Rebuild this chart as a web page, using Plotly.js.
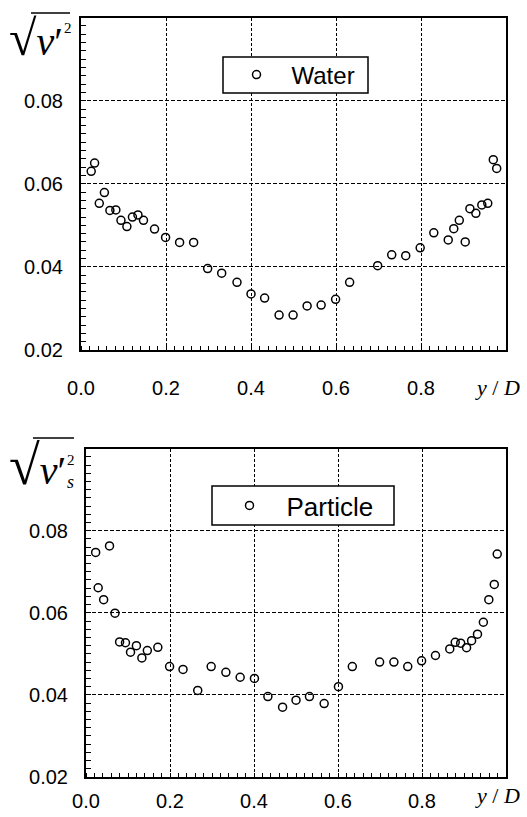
<!DOCTYPE html>
<html><head><meta charset="utf-8">
<script src="https://cdn.plot.ly/plotly-3.0.1.min.js"></script>
<style>html,body{margin:0;padding:0;background:#fff}</style>
</head><body><div id="chart" style="width:527px;height:817px"></div>
<script>
// ---- data ----
const waterX = [0.024,0.032,0.043,0.055,0.068,0.082,0.094,0.108,0.121,0.134,0.147,0.173,0.199,0.232,0.265,0.298,0.331,0.367,0.400,0.432,0.466,0.499,0.532,0.565,0.599,0.632,0.698,0.731,0.764,0.798,0.830,0.864,0.877,0.890,0.904,0.915,0.929,0.943,0.957,0.970,0.978];
const waterY = [0.0630,0.0650,0.0553,0.0579,0.0536,0.0537,0.0512,0.0497,0.0520,0.0525,0.0512,0.0491,0.0471,0.0459,0.0459,0.0396,0.0385,0.0363,0.0335,0.0325,0.0284,0.0284,0.0306,0.0308,0.0322,0.0363,0.0403,0.0429,0.0427,0.0446,0.0482,0.0465,0.0492,0.0512,0.0460,0.0540,0.0529,0.0549,0.0553,0.0658,0.0637];
const particleX = [0.023,0.029,0.042,0.056,0.069,0.080,0.094,0.106,0.120,0.133,0.146,0.171,0.199,0.231,0.266,0.298,0.333,0.367,0.401,0.433,0.468,0.500,0.532,0.567,0.601,0.634,0.699,0.733,0.766,0.799,0.832,0.866,0.879,0.892,0.906,0.918,0.932,0.946,0.959,0.972,0.979];
const particleY = [0.0747,0.0661,0.0632,0.0763,0.0599,0.0529,0.0527,0.0504,0.0520,0.0490,0.0508,0.0516,0.0469,0.0462,0.0411,0.0469,0.0455,0.0443,0.0440,0.0396,0.0370,0.0387,0.0396,0.0379,0.0420,0.0469,0.0480,0.0480,0.0469,0.0483,0.0496,0.0512,0.0528,0.0526,0.0515,0.0532,0.0548,0.0577,0.0632,0.0669,0.0743];
const xRange = [0, 0.9999];        // labels 0.0 … 0.8 (1.0 is replaced by y/D)
const yRange = [0.02, 0.0999];     // labels 0.02 … 0.08
const xTick = {major: 0.2, minor: 0.02, format: '.1f'};
const yTick = {major: 0.02, minor: 0.002, format: '.2f'};
const seriesNames = ['Water', 'Particle'];

// ---- layout helpers ----
const W = 527, H = 817, L = 81, R = 21, T = 18, B = 40;
const PW = W - L - R, PH = H - T - B;
const px = v => (v - L) / PW;
const py = v => (H - B - v) / PH;
const sans = 'Liberation Sans, Arial, sans-serif';
const serif = 'Liberation Serif, Times New Roman, serif';

// major ticks are transparent "outside" spacers (they push the labels out);
// the visible comb comes from the minor ticks drawn inside the frame.
function xAxis(domain, anchor, gap) {
  return {
    domain: domain, anchor: anchor, range: xRange,
    dtick: xTick.major, tickformat: xTick.format,
    ticks: 'outside', ticklen: gap, tickwidth: 1, tickcolor: 'rgba(0,0,0,0)',
    minor: {ticks: 'inside', ticklen: 4, tickwidth: 1, tickcolor: '#000', dtick: xTick.minor},
    showgrid: true, gridcolor: '#000', gridwidth: 1, griddash: '3px,2px',
    showline: true, linecolor: '#000', linewidth: 1.5, mirror: true, zeroline: false,
    tickfont: {family: sans, size: 20, color: '#000'}
  };
}
function yAxis(domain, anchor) {
  return {
    domain: domain, anchor: anchor, range: yRange,
    dtick: yTick.major, tickformat: yTick.format,
    ticks: 'outside', ticklen: 12, tickwidth: 1, tickcolor: 'rgba(0,0,0,0)',
    minor: {ticks: 'inside', ticklen: 5, tickwidth: 1, tickcolor: '#000', dtick: yTick.minor},
    showgrid: true, gridcolor: '#000', gridwidth: 1, griddash: '4px,2px',
    showline: true, linecolor: '#000', linewidth: 2, mirror: true, zeroline: false,
    tickfont: {family: sans, size: 20, color: '#000'}
  };
}
const mk = {symbol: 'circle-open', size: 8, color: '#000', line: {width: 1.5, color: '#000'}};

const data = [
  {x: waterX, y: waterY, type: 'scatter', mode: 'markers', name: seriesNames[0], marker: mk, xaxis: 'x', yaxis: 'y', legend: 'legend'},
  {x: particleX, y: particleY, type: 'scatter', mode: 'markers', name: seriesNames[1], marker: mk, xaxis: 'x2', yaxis: 'y2', legend: 'legend2'}
];

function ann(text, x, y, font, xa, ya) {
  return {text: text, xref: 'paper', yref: 'paper', x: px(x), y: py(y), xanchor: xa || 'center', yanchor: ya || 'middle',
          showarrow: false, font: font, borderpad: 0};
}
const annotations = [
  ann('<i>y</i> / <i>D</i>', 497, 387, {family: serif, size: 22, color: '#000'}),
  ann('<i>y</i> / <i>D</i>', 497, 795, {family: serif, size: 22, color: '#000'}),
  // top y title
  ann('<span style="font-size:50px">√</span><i>ν</i>′', 8, 38, {family: serif, size: 40, color: '#000'}, 'left'),
  ann('2', 63, 28, {family: serif, size: 15, color: '#000'}, 'left'),
  // bottom y title
  ann('<span style="font-size:56px">√</span><i>ν</i>′', 8, 465, {family: serif, size: 40, color: '#000'}, 'left'),
  ann('2', 66, 460, {family: serif, size: 15, color: '#000'}, 'left'),
  ann('<i>s</i>', 66, 482, {family: serif, size: 18, color: '#000'}, 'left')
];
const shapes = [
  // radical vinculum lines
  {type: 'line', xref: 'paper', yref: 'paper', x0: px(31), x1: px(70), y0: py(13), y1: py(13), line: {color: '#000', width: 1.5}},
  {type: 'line', xref: 'paper', yref: 'paper', x0: px(33), x1: px(74), y0: py(438), y1: py(438), line: {color: '#000', width: 1.5}},
  // legend frames
  {type: 'rect', xref: 'paper', yref: 'paper', x0: px(223), x1: px(368), y0: py(57), y1: py(93), fillcolor: '#fff', line: {color: '#000', width: 1.5}, layer: 'above'},
  {type: 'rect', xref: 'paper', yref: 'paper', x0: px(212), x1: px(394), y0: py(486), y1: py(525), fillcolor: '#fff', line: {color: '#000', width: 1.5}, layer: 'above'}
];

const layout = {
  width: W, height: H, margin: {l: L, r: R, t: T, b: B},
  paper_bgcolor: '#fff', plot_bgcolor: '#fff',
  font: {family: sans, color: '#000'},
  xaxis: xAxis([0, 1], 'y', 19),
  yaxis: yAxis([py(350), 1], 'x'),
  xaxis2: xAxis([px(86), 1], 'y2', 5),
  yaxis2: yAxis([0, py(449)], 'x2'),
  legend: {x: px(221.5), y: py(75), xanchor: 'left', yanchor: 'middle', borderwidth: 0, bgcolor: 'rgba(0,0,0,0)',
           font: {family: sans, size: 24, color: '#000'}, itemwidth: 60},
  legend2: {x: px(212.5), y: py(505.5), xanchor: 'left', yanchor: 'middle', borderwidth: 0, bgcolor: 'rgba(0,0,0,0)',
           font: {family: sans, size: 26, color: '#000'}, itemwidth: 64},
  showlegend: true,
  annotations: annotations,
  shapes: shapes
};
Plotly.newPlot('chart', data, layout, {displayModeBar: false});
</script></body></html>
